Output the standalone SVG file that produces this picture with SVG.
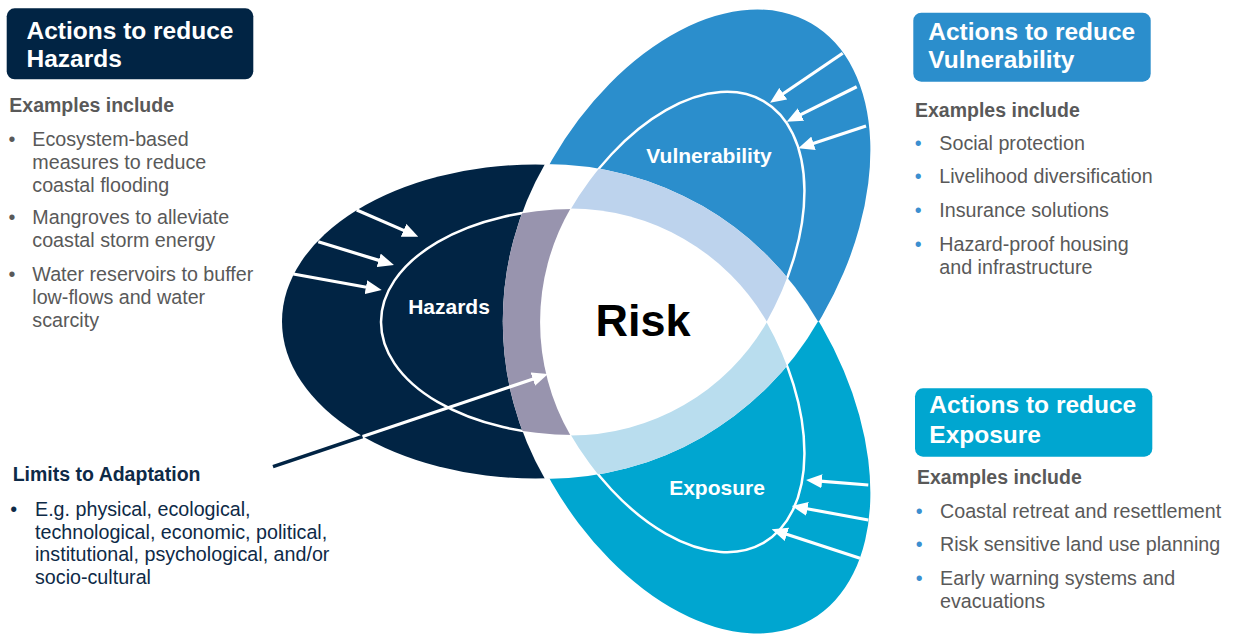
<svg xmlns="http://www.w3.org/2000/svg" width="1234" height="635" viewBox="0 0 1234 635">
<defs>
<style>
.t{font-family:"Liberation Sans",Arial,Helvetica,sans-serif}
.title{font-size:24.5px;font-weight:bold;fill:#fff}
.ex{font-size:19.5px;font-weight:bold;fill:#595959}
.li{font-size:19.7px;fill:#595959}
.bl{font-size:19.7px;fill:#3B8FD0;text-anchor:middle}
.nv{font-size:19.7px;fill:#0E2A47}
.lbl{font-size:21px;font-weight:bold;fill:#fff;text-anchor:middle}
.arr{stroke:#fff;stroke-width:3.2;fill:none;marker-end:url(#ah)}
.ring{fill:none;stroke:#fff;stroke-width:2.5}
</style>
<marker id="ah" viewBox="0 0 16 14" markerWidth="16" markerHeight="14" refX="2" refY="7" orient="auto" markerUnits="userSpaceOnUse"><path d="M0,0 L16,7 L0,14 z" fill="#fff"/></marker>
<ellipse id="Ho" cx="535.5" cy="321.5" rx="253.5" ry="157"/>
<ellipse id="Vo" cx="0" cy="0" rx="248" ry="156" transform="translate(687 238) rotate(-60)"/>
<ellipse id="Eo" cx="0" cy="0" rx="248" ry="156" transform="translate(687 405) rotate(60)"/>
<ellipse id="hi" cx="574" cy="322" rx="193" ry="113"/>
<ellipse id="vi" cx="0" cy="0" rx="193" ry="113" transform="translate(667 268.3) rotate(-60)"/>
<ellipse id="ei" cx="0" cy="0" rx="193" ry="113" transform="translate(667 375.7) rotate(60)"/>
<path id="W" d="M545,163.9 A315.2,315.2 0 0 1 818,321.5 A315.2,315.2 0 0 1 545,479.1 A315.2,315.2 0 0 1 545,163.9 Z"/>
<clipPath id="cW"><use href="#W"/></clipPath>
<clipPath id="sL"><path d="M636,321.5 L454,6.3 L0,0 L0,640 L454,636.7 Z"/></clipPath>
<clipPath id="sU"><path d="M636,321.5 L454,6.3 L454,-10 L1234,-10 L1234,321.5 Z"/></clipPath>
<clipPath id="sD"><path d="M636,321.5 L1234,321.5 L1234,645 L454,645 L454,636.7 Z"/></clipPath>
<clipPath id="top"><rect x="0" y="-10" width="1234" height="331.5"/></clipPath>
<clipPath id="bot"><rect x="0" y="321.5" width="1234" height="330"/></clipPath>
</defs>
<rect width="1234" height="635" fill="#fff"/>

<g id="hazards">
<use href="#Ho" fill="#012444"/>
<use href="#hi" class="ring"/>
</g>
<g id="vulnerability" clip-path="url(#top)">
<use href="#Vo" fill="#2B8ECC"/>
<use href="#vi" class="ring"/>
</g>
<g id="exposure" clip-path="url(#bot)">
<use href="#Eo" fill="#00A6D0"/>
<use href="#ei" class="ring"/>
</g>

<g id="risk">
<use href="#W" fill="#fff"/>
<g clip-path="url(#cW)">
<g clip-path="url(#sL)"><use href="#hi" fill="#9894AE"/></g>
<g clip-path="url(#sU)"><use href="#vi" fill="#BDD3ED"/></g>
<g clip-path="url(#sD)"><use href="#ei" fill="#B9DDEE"/></g>
</g>
<path d="M570.5,208.5 A226.9,226.9 0 0 1 767,322 A226.9,226.9 0 0 1 570.5,435.5 A226.9,226.9 0 0 1 570.5,208.5 Z" fill="#fff"/>
<text class="t" x="643" y="336" font-size="45" font-weight="bold" fill="#000" text-anchor="middle">Risk</text>
</g>

<g id="labels">
<text class="t lbl" x="449" y="314">Hazards</text>
<text class="t lbl" x="709" y="163">Vulnerability</text>
<text class="t lbl" x="717" y="495">Exposure</text>
</g>

<g id="connectors">
<line class="arr" x1="356.7" y1="210" x2="405.4" y2="231.1"/>
<line class="arr" x1="318.3" y1="241.7" x2="380.6" y2="260.9"/>
<line class="arr" x1="293.3" y1="274" x2="367.9" y2="287.5"/>
<line class="arr" x1="842.7" y1="53.3" x2="781.6" y2="94.8"/>
<line class="arr" x1="856.7" y1="86.7" x2="799.2" y2="115.4"/>
<line class="arr" x1="866" y1="126" x2="811.6" y2="143.9"/>
<line class="arr" x1="868.3" y1="485" x2="820" y2="481.1"/>
<line class="arr" x1="868.3" y1="520" x2="805.5" y2="508.5"/>
<line class="arr" x1="860" y1="558.3" x2="785" y2="533.7"/>
<line x1="273" y1="466.7" x2="362.6" y2="436.5" stroke="#012444" stroke-width="3.5"/>
<line class="arr" x1="362.6" y1="436.5" x2="534.7" y2="378.5"/>
</g>

<g id="actions-hazards">
<rect x="6.7" y="8.3" width="246.6" height="71" rx="8" fill="#012444"/>
<text class="t title" x="26.5" y="38.8">Actions to reduce</text>
<text class="t title" x="26.5" y="66.6">Hazards</text>
<text class="t ex" x="9.3" y="112">Examples include</text>
<text class="t li" x="12" y="145.5" text-anchor="middle">•</text>
<text class="t li" x="32.3" y="145.5">Ecosystem-based</text>
<text class="t li" x="32.3" y="168.5">measures to reduce</text>
<text class="t li" x="32.3" y="191.5">coastal flooding</text>
<text class="t li" x="12" y="224" text-anchor="middle">•</text>
<text class="t li" x="32.3" y="224">Mangroves to alleviate</text>
<text class="t li" x="32.3" y="247">coastal storm energy</text>
<text class="t li" x="12" y="280.5" text-anchor="middle">•</text>
<text class="t li" x="32.3" y="280.5">Water reservoirs to buffer</text>
<text class="t li" x="32.3" y="303.5">low-flows and water</text>
<text class="t li" x="32.3" y="326.5">scarcity</text>
</g>

<g id="actions-vulnerability">
<rect x="913.3" y="12.7" width="237.4" height="69" rx="8" fill="#2B8ECC"/>
<text class="t title" x="928.3" y="39.5">Actions to reduce</text>
<text class="t title" x="928.3" y="68">Vulnerability</text>
<text class="t ex" x="915" y="116.5">Examples include</text>
<text class="t bl" x="918.3" y="149.5">•</text>
<text class="t li" x="939.3" y="149.5">Social protection</text>
<text class="t bl" x="918.3" y="183">•</text>
<text class="t li" x="939.3" y="183">Livelihood diversification</text>
<text class="t bl" x="918.3" y="216.8">•</text>
<text class="t li" x="939.3" y="216.8">Insurance solutions</text>
<text class="t bl" x="918.3" y="251">•</text>
<text class="t li" x="939.3" y="251">Hazard-proof housing</text>
<text class="t li" x="939.3" y="273.5">and infrastructure</text>
</g>

<g id="actions-exposure">
<rect x="915" y="388.3" width="237.3" height="68.4" rx="8" fill="#00A6D0"/>
<text class="t title" x="929.3" y="413.3">Actions to reduce</text>
<text class="t title" x="929.3" y="442.7">Exposure</text>
<text class="t ex" x="917" y="484.3">Examples include</text>
<text class="t bl" x="919.3" y="517.7">•</text>
<text class="t li" x="940" y="517.7">Coastal retreat and resettlement</text>
<text class="t bl" x="919.3" y="551.3">•</text>
<text class="t li" x="940" y="551.3">Risk sensitive land use planning</text>
<text class="t bl" x="919.3" y="584.8">•</text>
<text class="t li" x="940" y="584.8">Early warning systems and</text>
<text class="t li" x="940" y="607.5">evacuations</text>
</g>

<g id="limits">
<text class="t" x="12.7" y="481" font-size="19.5" font-weight="bold" fill="#0E2A47">Limits to Adaptation</text>
<text class="t nv" x="13.7" y="516" text-anchor="middle">•</text>
<text class="t nv" x="35" y="516">E.g. physical, ecological,</text>
<text class="t nv" x="35" y="538.5">technological, economic, political,</text>
<text class="t nv" x="35" y="561">institutional, psychological, and/or</text>
<text class="t nv" x="35" y="583.5">socio-cultural</text>
</g>
</svg>
